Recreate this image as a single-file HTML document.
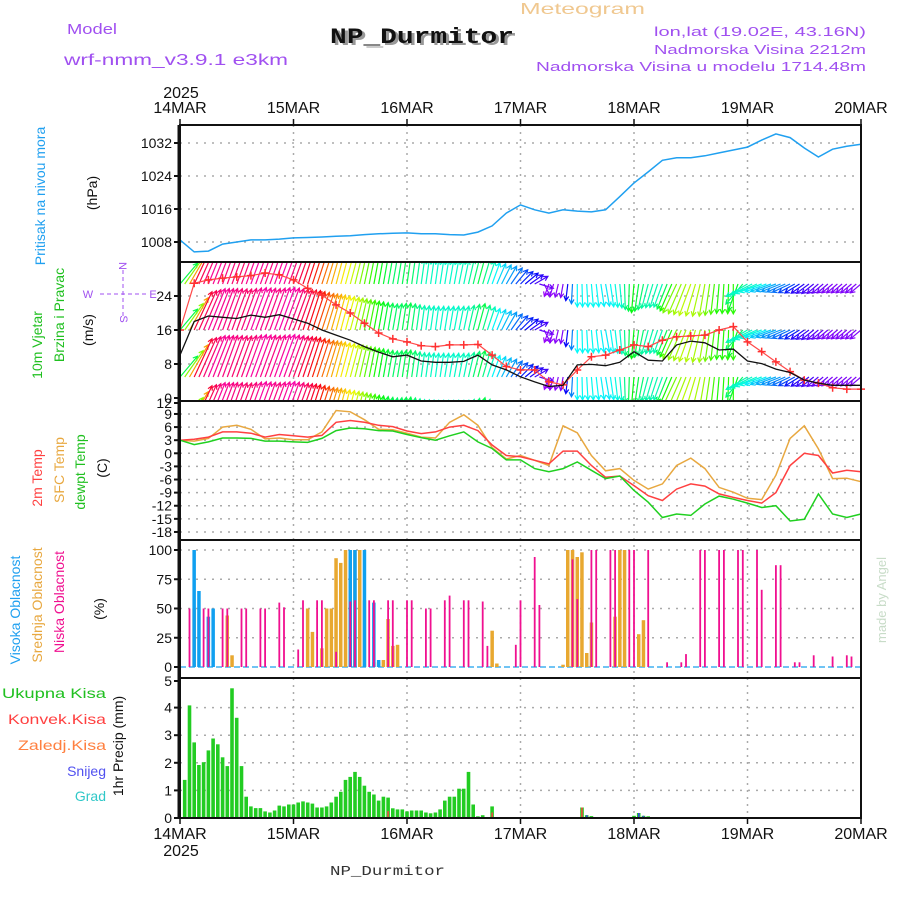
<!DOCTYPE html>
<html><head><meta charset="utf-8"><style>
html,body{margin:0;padding:0;background:#fff;}
svg{display:block;font-family:"Liberation Sans",sans-serif;}
</style></head><body>
<svg id="chart" width="900" height="900" viewBox="0 0 900 900" xmlns="http://www.w3.org/2000/svg">
<rect x="0" y="0" width="900" height="900" fill="#fff"/>
<g id="gridLayer"></g>
<g id="dataLayer"></g>
<g id="frameLayer"></g>
<g id="textLayer">
  <text x="67" y="34" font-size="15" fill="#a050f0" textLength="50" lengthAdjust="spacingAndGlyphs">Model</text>
  <text x="64" y="65" font-size="16" fill="#a050f0" textLength="224" lengthAdjust="spacingAndGlyphs">wrf-nmm_v3.9.1 e3km</text>
  <text x="333" y="45" font-size="22" font-weight="bold" fill="#999" font-family="Liberation Mono, monospace" textLength="184" lengthAdjust="spacingAndGlyphs">NP_Durmitor</text>
  <text x="330" y="43" font-size="22" font-weight="bold" fill="#111" font-family="Liberation Mono, monospace" textLength="184" lengthAdjust="spacingAndGlyphs">NP_Durmitor</text>
  <text x="520" y="14" font-size="16" fill="#f0c890" textLength="125" lengthAdjust="spacingAndGlyphs">Meteogram</text>
  <text x="866" y="36" font-size="13" fill="#a050f0" text-anchor="end" textLength="212" lengthAdjust="spacingAndGlyphs">lon,lat (19.02E, 43.16N)</text>
  <text x="866" y="54" font-size="13" fill="#a050f0" text-anchor="end" textLength="212" lengthAdjust="spacingAndGlyphs">Nadmorska Visina 2212m</text>
  <text x="866" y="71" font-size="13" fill="#a050f0" text-anchor="end" textLength="330" lengthAdjust="spacingAndGlyphs">Nadmorska Visina u modelu 1714.48m</text>
  <text x="181" y="98" font-size="16" fill="#111" text-anchor="middle">2025</text>
  <text x="181" y="856" font-size="16" fill="#111" text-anchor="middle">2025</text>
  <text x="330" y="875" font-size="14" fill="#333" font-family="Liberation Mono, monospace" textLength="115" lengthAdjust="spacingAndGlyphs">NP_Durmitor</text>
  <text transform="translate(45,196) rotate(-90)" font-size="14" fill="#20a0f0" text-anchor="middle">Pritisak na nivou mora</text>
  <text transform="translate(97,193) rotate(-90)" font-size="14" fill="#111" text-anchor="middle">(hPa)</text>
  <text transform="translate(42,345) rotate(-90)" font-size="14" fill="#20c020" text-anchor="middle">10m Vjetar</text>
  <text transform="translate(64,315) rotate(-90)" font-size="14" fill="#20c020" text-anchor="middle">Brzina i Pravac</text>
  <text transform="translate(93,330) rotate(-90)" font-size="14" fill="#111" text-anchor="middle">(m/s)</text>
  <g stroke="#a050f0" fill="#a050f0">
    <line x1="123" y1="270" x2="123" y2="318" stroke-dasharray="4,3"/>
    <line x1="100" y1="294" x2="146" y2="294" stroke-dasharray="4,3"/>
    <text x="123" y="270" font-size="11" stroke="none" text-anchor="middle" transform="rotate(90,123,266)">N</text>
    <text x="88" y="298" font-size="11" stroke="none" text-anchor="middle">W</text>
    <text x="153" y="298" font-size="11" stroke="none" text-anchor="middle">E</text>
    <text x="123" y="322" font-size="11" stroke="none" text-anchor="middle" transform="rotate(90,123,319)">S</text>
  </g>
  <text transform="translate(42,478) rotate(-90)" font-size="14" fill="#ff4040" text-anchor="middle">2m Temp</text>
  <text transform="translate(64,470) rotate(-90)" font-size="14" fill="#e8a840" text-anchor="middle">SFC Temp</text>
  <text transform="translate(85,472) rotate(-90)" font-size="14" fill="#20c020" text-anchor="middle">dewpt Temp</text>
  <text transform="translate(107,468) rotate(-90)" font-size="14" fill="#111" text-anchor="middle">(C)</text>
  <text transform="translate(20,610) rotate(-90)" font-size="14" fill="#20a0f0" text-anchor="middle">Visoka Oblacnost</text>
  <text transform="translate(42,605) rotate(-90)" font-size="14" fill="#e8a840" text-anchor="middle">Srednja Oblacnost</text>
  <text transform="translate(64,602) rotate(-90)" font-size="14" fill="#f01090" text-anchor="middle">Niska Oblacnost</text>
  <text transform="translate(104,609) rotate(-90)" font-size="14" fill="#111" text-anchor="middle">(%)</text>
  <text x="106" y="698" font-size="14" fill="#20c020" text-anchor="end" textLength="104" lengthAdjust="spacingAndGlyphs">Ukupna  Kisa</text>
  <text x="106" y="724" font-size="14" fill="#ff4040" text-anchor="end" textLength="98" lengthAdjust="spacingAndGlyphs">Konvek.Kisa</text>
  <text x="106" y="750" font-size="14" fill="#ff8040" text-anchor="end" textLength="88" lengthAdjust="spacingAndGlyphs">Zaledj.Kisa</text>
  <text x="106" y="776" font-size="14" fill="#5050f0" text-anchor="end">Snijeg</text>
  <text x="106" y="801" font-size="14" fill="#30c8c8" text-anchor="end">Grad</text>
  <text transform="translate(123,746) rotate(-90)" font-size="14" fill="#111" text-anchor="middle">1hr Precip (mm)</text>
  <text transform="translate(886,600) rotate(-90)" font-size="13" fill="#c8dcc8" text-anchor="middle">made by Angel</text>
</g>
</svg>
<script>
// ---- data (every 3 hours, h0..h144) ----
const dayLabels = ["14MAR","15MAR","16MAR","17MAR","18MAR","19MAR","20MAR"];
const pressure = [1008.5,1005.6,1005.8,1007.5,1008,1008.5,1008.5,1008.7,1009,1009.1,1009.2,1009.4,1009.5,1009.8,1010,1010.1,1010.2,1010,1010,1009.8,1009.7,1010.4,1011.9,1015,1017,1015.8,1015,1015.8,1015.5,1015.3,1015.8,1019,1022.3,1025,1027.8,1028.4,1028.4,1028.9,1029.6,1030.3,1031,1032.7,1034.2,1033.3,1030.8,1028.6,1030.5,1031.2,1031.7];
const pressureTicks = [1008,1016,1024,1032];
const windSpeed = [10.1,18,19.3,19,18.7,19.5,19,19.6,18.6,17.6,16,14.8,13.6,12.1,10.8,9.7,10.1,8.7,8.4,8.4,8.6,10.1,7.8,6.6,5.0,3.8,2.7,3.0,7.8,7.9,7.6,8.4,10.9,8.9,8.7,12.5,13.4,13,11.3,11.5,8.7,8.1,6.8,6,4.2,3.5,3,3,3];
const windGust = [16,27,27.8,28.2,28.5,28.8,29.4,29,27.8,25.8,24.2,21.9,20,17.6,15.3,13.9,13.2,12.3,12.1,12.5,12.5,12.6,10.1,7.4,6.6,6.6,3.8,3.1,6.6,9.7,10.1,11.3,12.5,12.1,13.6,14.4,14.6,14.8,16,16.8,13.2,10.9,8.5,6.2,4.2,3.5,2.4,2.1,2.1];
const windDir = [40,25,22,20,20,20,20,20,20,18,18,15,15,12,10,10,8,8,8,10,12,15,20,30,45,60,200,190,180,175,170,175,185,195,200,205,200,190,185,180,240,250,250,245,235,230,230,230,230];
const windTicks = [0,8,16,24];
const temp2m = [3.0,3.2,3.7,4.9,4.9,4.6,3.7,4.3,4.0,3.7,4.1,7.1,7.5,7.1,6.4,6.1,5.1,4.5,4.9,6.0,6.4,5.2,1.9,-0.5,-0.8,-1.6,-2.4,0.5,0.5,-2.8,-5.5,-5.2,-7.4,-9.7,-10.8,-8.2,-7,-7.5,-9.3,-10.1,-10.8,-11.4,-9,-2.8,0,-0.5,-4.5,-3.9,-4.2];
const tempSfc = [3.0,2.8,3.4,6.0,6.4,5.5,3.3,3.5,3.1,3.1,4.9,9.8,9.5,7.7,5.5,5.4,4.6,3.7,3.5,7.1,8.8,6.4,1.3,-1.3,-0.5,-1.6,-2.8,6.3,4.7,-0.5,-4,-3.5,-6.2,-8.2,-7,-2.8,-1.1,-3.5,-7.8,-8.9,-10.3,-10.6,-5,3.4,6.3,1,-5.8,-5.7,-6.5];
const tempDew = [3.0,2.0,2.6,3.5,3.5,3.4,2.8,2.8,2.6,2.5,3.4,5.2,5.8,5.6,5.2,5.1,4.3,3.6,3.0,4.0,4.9,2.6,1.1,-1.5,-1.5,-3.5,-4.2,-3.5,-2,-3.9,-5.8,-5.2,-8.5,-11.2,-14.7,-13.9,-14.2,-11.6,-9.8,-10.5,-11.4,-12.4,-12,-15.5,-15.1,-9.3,-13.9,-14.7,-13.9];
const tempTicks = [12,9,6,3,0,-3,-6,-9,-12,-15,-18];
// clouds (hour, percent)
const lowHours = [2,5,6,9,10,13,14,17,18,21,22,25,26,29,30,33,36,37,40,41,44,45,48,49,52,53,56,57,60,61,64,65,71,72,75,76,83,84,87,88,91,92,95,96,99,103,106,107,110,111,114,115,118,119,122,123,126,127,130,131,134,138,141,142];
const lowVals = [50,50,50,50,50,50,50,50,50,55,51,15,57,57,57,13,56,57,57,57,57,57,57,57,50,50,57,61,57,57,56,18,19,57,94,53,92,58,100,100,100,100,100,100,100,4,4,11,100,100,100,100,100,100,100,66,87,87,4,4,10,9,10,9];
const midHours = [3,10,11,27,28,30,31,32,33,34,35,36,37,38,39,41,42,43,44,45,46,66,67,81,82,83,84,85,86,87,92,93,94,97,98];
const midVals = [50,44,10,50,30,16,50,50,93,89,100,100,100,100,57,4,4,6,41,18,19,31,3,2,100,100,94,98,12,38,43,100,100,28,40];
const highHours = [3,4,6,7,36,37,39,41,42];
const highVals = [100,65,43,50,100,100,100,55,6];
const cloudTicks = [0,25,50,75,100];
// precipitation (mm per hour)
const totalPrecip = [0,1.38,4.08,2.74,1.92,2.02,2.45,2.88,2.67,2.2,1.88,4.7,3.63,1.88,0.77,0.42,0.36,0.36,0.24,0.2,0.27,0.45,0.42,0.49,0.49,0.56,0.6,0.56,0.52,0.38,0.38,0.42,0.56,0.77,0.95,1.38,1.49,1.67,1.49,1.17,0.95,0.85,0.63,0.77,0.74,0.35,0.31,0.31,0.24,0.27,0.27,0.27,0.2,0.17,0.2,0.31,0.63,0.77,0.77,1.06,1.06,1.67,0.49,0.06,0.1,0,0.42];
const lateHours = [85,86,87,96,97,98,99];
const lateVals = [0.38,0.1,0.07,0.08,0.18,0.08,0.06];
const convHours = [44,66,85,86];
const convVals = [0.25,0.2,0.38,0.08];
const snowHours = [86,97,98];
const snowVals = [0.1,0.18,0.08];
const precipTicks = [0,1,2,3,4,5];

// ---- layout ----
const NS = "http://www.w3.org/2000/svg";
const X0 = 180, X1 = 861, HOURS = 144;
const P = {pres:[125,262], wind:[262,401], temp:[401,540], cloud:[540,678], prec:[678,818]};
const xAt = h => X0 + h * (X1 - X0) / HOURS;
const yPres = v => 242 - (v - 1008) * 4.125;
const yWind = v => 398 - v * 4.25;
const yTemp = v => 453.3 - v * 4.37;
const yCloud = v => 667 - v * 1.17;
const yPrec = v => 818 - v * 27.6;

const grid = document.getElementById('gridLayer');
const dataL = document.getElementById('dataLayer');
const frame = document.getElementById('frameLayer');
function el(tag, attrs, parent) {
  const e = document.createElementNS(NS, tag);
  for (const k in attrs) e.setAttribute(k, attrs[k]);
  parent.appendChild(e);
  return e;
}

// clip path for wind panel
const defs = el('defs', {}, document.getElementById('chart'));
const cp = el('clipPath', {id:'windClip'}, defs);
el('rect', {x:X0, y:P.wind[0], width:X1-X0, height:P.wind[1]-P.wind[0]}, cp);

// vertical grid
for (let d = 1; d < 6; d++) {
  const x = xAt(d * 24);
  const g = el('line', {x1:x, y1:P.pres[0], x2:x, y2:P.prec[1], stroke:'#aaa', 'stroke-width':1.5, 'stroke-dasharray':'2,5'}, grid);
  
  
}
function hgrid(y) {
  const g = el('line', {x1:X0, y1:y, x2:X1, y2:y, stroke:'#aaa', 'stroke-width':1.5, 'stroke-dasharray':'2,6'}, grid);
  
  
}
function ytick(y, label, name) {
  el('line', {x1:X0-6, y1:y, x2:X0, y2:y, stroke:'#111', 'stroke-width':2}, frame);
  const t = el('text', {x:X0-8, y:y+5, 'font-size':14, fill:'#111', 'text-anchor':'end'}, frame);
  t.textContent = label;
  
  
}
pressureTicks.forEach(v => { hgrid(yPres(v)); ytick(yPres(v), v, 'pressure-tick-label'); });
windTicks.forEach(v => { if (v > 0) hgrid(yWind(v)); ytick(yWind(v), v, 'wind-tick-label'); });
tempTicks.forEach(v => { if (v < 12) hgrid(yTemp(v)); ytick(v === 12 ? 403 : yTemp(v), v, 'temp-tick-label'); });
cloudTicks.forEach(v => { if (v > 0) hgrid(yCloud(v)); ytick(yCloud(v), v, 'cloud-tick-label'); });
precipTicks.forEach(v => { if (v > 0 && v < 5) hgrid(yPrec(v)); ytick(v === 5 ? 681 : yPrec(v), v, 'precip-tick-label'); });

function polyline(arr, yf, color, name, w) {
  const pts = arr.map((v, i) => xAt(i * 3).toFixed(1) + ',' + yf(v).toFixed(1)).join(' ');
  const p = el('polyline', {points:pts, fill:'none', stroke:color, 'stroke-width':w || 1.5}, dataL);
  
  
  return p;
}
function interp(arr, h) {
  const i = Math.min(Math.floor(h / 3), arr.length - 2);
  const f = (h - i * 3) / 3;
  return arr[i] * (1 - f) + arr[i + 1] * f;
}
function speedColor(v) {
  let hue = 270 - (v - 3) * 18.75;
  if (hue < 0) hue += 360;
  return 'hsl(' + hue.toFixed(0) + ',95%,50%)';
}

// pressure
polyline(pressure, yPres, '#20a0f0', 'pressure-line', 1.5);

// wind arrows (rows), clipped to panel
const windG = el('g', {'clip-path':'url(#windClip)'}, dataL);


const rowBases = [284, 330, 377, 424];
for (let h = 0; h <= HOURS; h++) {
  const v = interp(windSpeed, h);
  let d = interp(windDir, h);
  const a = d * Math.PI / 180;
  const L = 8 + 1.9 * v;
  const col = speedColor(v);
  rowBases.forEach(by => {
    const x1 = xAt(h), y1 = by;
    const x2 = x1 + L * Math.sin(a), y2 = y1 - L * Math.cos(a);
    const hx1 = x2 - 5 * Math.sin(a - 0.5), hy1 = y2 + 5 * Math.cos(a - 0.5);
    const hx2 = x2 - 5 * Math.sin(a + 0.5), hy2 = y2 + 5 * Math.cos(a + 0.5);
    const p = el('path', {d:`M${x1.toFixed(1)},${y1} L${x2.toFixed(1)},${y2.toFixed(1)} M${hx1.toFixed(1)},${hy1.toFixed(1)} L${x2.toFixed(1)},${y2.toFixed(1)} L${hx2.toFixed(1)},${hy2.toFixed(1)}`, stroke:col, 'stroke-width':1.2, fill:'none'}, windG);
    
    
  });
}
// gust crosses + line
const gl = polyline(windGust, yWind, '#ff4848', 'gust-line', 1.2);
windGust.forEach((v, i) => {
  const x = xAt(i * 3), y = yWind(v);
  const c = el('path', {d:`M${x-4},${y} L${x+4},${y} M${x},${y-4} L${x},${y+4}`, stroke:'#ff3030', 'stroke-width':1.5}, dataL);
  
  
});
polyline(windSpeed, yWind, '#111', 'wind-speed-line', 1.3);

// temps
polyline(tempSfc, yTemp, '#e8a840', 'sfc-temp-line', 1.5);
polyline(temp2m, yTemp, '#ff4040', 'temp-2m-line', 1.5);
polyline(tempDew, yTemp, '#20d020', 'dewpoint-line', 1.5);

// clouds
const cb = el('line', {x1:X0, y1:yCloud(0), x2:X1, y2:yCloud(0), stroke:'#40b0f0', 'stroke-width':1.5, 'stroke-dasharray':'6,3'}, dataL);


function bars(hours, vals, yf, color, w, name) {
  hours.forEach((h, i) => {
    const x = xAt(h), y = yf(vals[i]), y0 = yf(0);
    const r = el('rect', {x:(x - w / 2).toFixed(1), y:y.toFixed(1), width:w, height:Math.max(0, y0 - y).toFixed(1), fill:color}, dataL);
    
    
  });
}
bars(midHours, midVals, yCloud, '#e8a830', 3.5, 'mid-cloud-bar');
bars(highHours, highVals, yCloud, '#10a0f0', 3.5, 'high-cloud-bar');
bars(lowHours, lowVals, yCloud, '#f01090', 1.8, 'low-cloud-bar');

// precip
const tpH = totalPrecip.map((v, i) => i);
bars(tpH, totalPrecip, yPrec, '#22cc22', 3.6, 'precip-bar');
bars(lateHours, lateVals, yPrec, '#22cc22', 3.6, 'precip-bar');
bars(convHours, convVals, yPrec, '#ff4040', 1.5, 'convective-precip-bar');
bars(snowHours, snowVals, yPrec, '#4040f0', 1.5, 'snow-bar');

// frames
Object.keys(P).forEach(k => {
  const r = el('rect', {x:X0, y:P[k][0], width:X1-X0, height:P[k][1]-P[k][0], fill:'none', stroke:'#111', 'stroke-width':2}, frame);
  
  
});
el('line', {x1:X0-1, y1:P.pres[0], x2:X0-1, y2:P.prec[1], stroke:'#111', 'stroke-width':3}, frame);
el('line', {x1:X0, y1:P.prec[1], x2:X1, y2:P.prec[1], stroke:'#111', 'stroke-width':1.5, 'stroke-dasharray':'8,2'}, frame);
// day labels
dayLabels.forEach((lab, i) => {
  const x = xAt(i * 24);
  el('line', {x1:x, y1:P.pres[0]-6, x2:x, y2:P.pres[0], stroke:'#111', 'stroke-width':1.5}, frame);
  el('line', {x1:x, y1:P.prec[1], x2:x, y2:P.prec[1]+6, stroke:'#111', 'stroke-width':1.5}, frame);
  const t1 = el('text', {x:x, y:113, 'font-size':16, fill:'#111', 'text-anchor':'middle'}, frame);
  t1.textContent = lab;
  
  
  const t2 = el('text', {x:x, y:839, 'font-size':16, fill:'#111', 'text-anchor':'middle'}, frame);
  t2.textContent = lab;
  
  
});
</script>
</body></html>
